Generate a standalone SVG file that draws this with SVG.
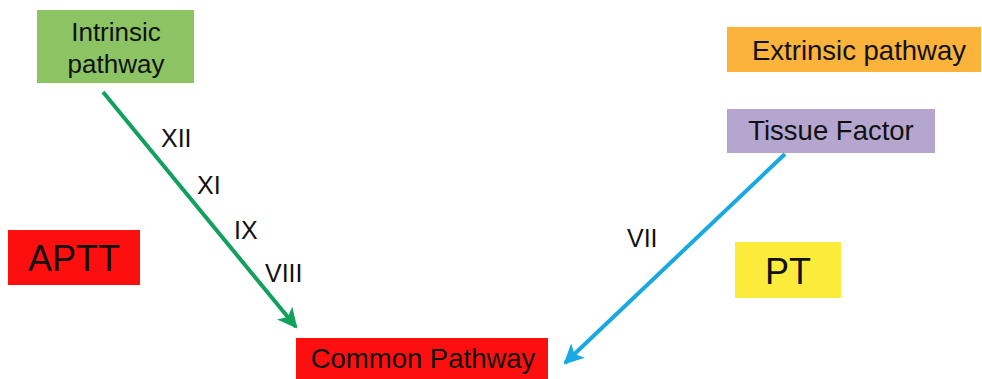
<svg xmlns="http://www.w3.org/2000/svg" width="982" height="379" viewBox="0 0 982 379">
<style>
text{font-family:"Liberation Sans",Arial,sans-serif;fill:#111}
.lbl{font-size:25px}
.box{font-size:27.5px;text-anchor:middle}
</style>
<defs>
<marker id="ag" viewBox="0 0 10 10" refX="9" refY="5" markerWidth="5" markerHeight="5" orient="auto" markerUnits="strokeWidth">
<path d="M0,0 L10,5 L0,10 L2.5,5 Z" fill="#12a05e"/>
</marker>
<marker id="ab" viewBox="0 0 10 10" refX="9" refY="5" markerWidth="5" markerHeight="5" orient="auto" markerUnits="strokeWidth">
<path d="M0,0 L10,5 L0,10 L2.5,5 Z" fill="#18a9e2"/>
</marker>
</defs>
<rect width="982" height="379" fill="#fff"/>
<g id="intrinsic">
<rect x="37" y="10" width="157" height="73" fill="#8cc464"/>
<text class="box" x="116" y="41" style="font-size:26px">Intrinsic</text>
<text class="box" x="116" y="73" style="font-size:26px">pathway</text>
</g>
<g id="extrinsic">
<rect x="727" y="27" width="254" height="45" fill="#fbb33c"/>
<text class="box" x="859" y="60">Extrinsic pathway</text>
</g>
<g id="tissue-factor">
<rect x="727" y="109" width="208" height="44" fill="#b4a6cf"/>
<text class="box" x="831" y="140">Tissue Factor</text>
</g>
<g id="aptt">
<rect x="8" y="230" width="132" height="55" fill="#fe0f0f"/>
<text x="74" y="271" style="font-size:36px;text-anchor:middle">APTT</text>
</g>
<g id="pt">
<rect x="735" y="242" width="106" height="56" fill="#fbec3c"/>
<text x="788" y="284" style="font-size:36px;text-anchor:middle">PT</text>
</g>
<g id="common">
<rect x="296" y="338" width="252" height="45" fill="#fe0f0f"/>
<text class="box" x="423" y="368">Common Pathway</text>
</g>
<g id="connectors">
<line x1="103" y1="92" x2="296" y2="327" stroke="#12a05e" stroke-width="4" marker-end="url(#ag)"/>
<line x1="785" y1="154" x2="565" y2="363" stroke="#18a9e2" stroke-width="4" marker-end="url(#ab)"/>
<text class="lbl" x="161" y="147">XII</text>
<text class="lbl" x="197" y="194">XI</text>
<text class="lbl" x="234" y="239">IX</text>
<text class="lbl" x="265" y="282">VIII</text>
<text class="lbl" x="627" y="247">VII</text>
</g>
</svg>
